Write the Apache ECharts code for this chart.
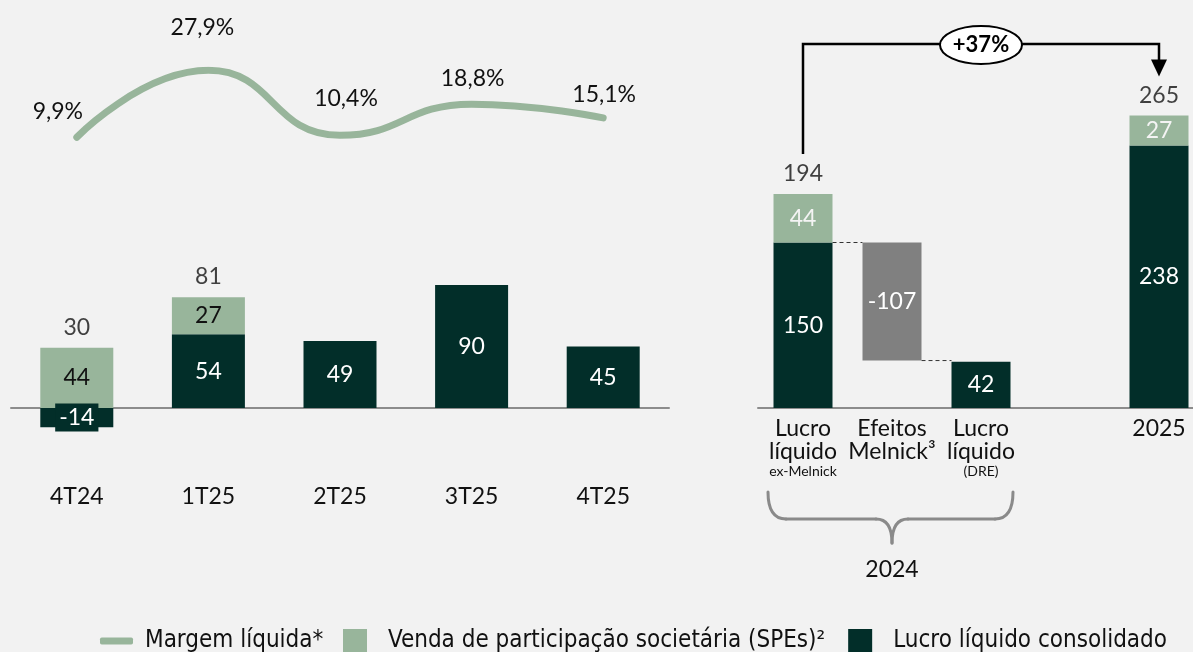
<!DOCTYPE html>
<html>
<head>
<meta charset="utf-8">
<script src="https://cdn.jsdelivr.net/npm/echarts@6/dist/echarts.min.js"></script>
<style>
  html, body { margin: 0; padding: 0; background: #f2f2f2; }
  #main { width: 1193px; height: 652px; }
</style>
</head>
<body>
<div id="main"></div>
<script>
// trimestres
const quarters = ['4T24', '1T25', '2T25', '3T25', '4T25'];
const margem = [9.9, 27.9, 10.4, 18.8, 15.1];
const lucroTri = [-14, 54, 49, 90, 45];
const vendaTri = [44, 27, null, null, null];

// anual (ponte 2024 -> 2025)
const anoCats = ['Lucro\nlíquido\n{s|ex-Melnick}', 'Efeitos\nMelnick³', 'Lucro\nlíquido\n{s|(DRE)}', '', '2025'];
const lucroAno = [150, null, 42, null, 238];
const vendaAno = [44, null, null, null, 27];
const efeitosAno = [null, -107, null, null, null];

const NOME_MARGEM = 'Margem líquida*';
const NOME_VENDA = 'Venda de participação societária (SPEs)²';
const NOME_LUCRO = 'Lucro líquido consolidado';

const VERDE = '#98b59b';
const ESCURO = '#022e29';
const CINZA = '#808080';
const TXT = '#111111';
const FONTE = 'Lato, "Open Sans", sans-serif';
const FONTE_LEG = '"DejaVu Sans Condensed", "Liberation Sans Narrow", sans-serif';

const chart = echarts.init(document.getElementById('main'), null, { renderer: 'canvas' });

// ajustes finos das etiquetas da margem
const margemLabel = [
  { distance: 14, offset: [-19, 0] },
  { distance: 31, offset: [-6, 0] },
  { distance: 25, offset: [6, 0] },
  { distance: 14, offset: [1, 0] },
  { distance: 12, offset: [1, 0] }
];

// totais acima das barras empilhadas (tri)
const totaisTri = [];
quarters.forEach((q, i) => {
  if (vendaTri[i] != null) {
    const pos = Math.max(lucroTri[i], 0) + vendaTri[i];
    totaisTri.push({ value: [i, pos], total: lucroTri[i] + vendaTri[i] });
  }
});

// totais (anual)
const totaisAno = [];
anoCats.forEach((c, i) => {
  if (vendaAno[i] != null) totaisAno.push([i, lucroAno[i] + vendaAno[i]]);
});

// base invisível da cascata
const baseAno = efeitosAno.map((v, i) => (v == null ? null : lucroAno[i - 1] + v));
// linhas tracejadas entre barras
const conectores = [];
efeitosAno.forEach((v, i) => {
  if (v != null) {
    conectores.push([i - 1, lucroAno[i - 1]]);
    conectores.push([i, baseAno[i]]);
  }
});

const valLabel = {
  show: true,
  position: 'inside',
  fontFamily: FONTE,
  fontSize: 23,
  color: '#ffffff'
};

const legTexto = { fontFamily: FONTE_LEG, fontSize: 24, color: TXT };

var option = {
  backgroundColor: '#f2f2f2',
  textStyle: { fontFamily: FONTE },
  animation: false,
  legend: [
    {
      data: [NOME_MARGEM],
      left: 100,
      top: 629,
      padding: 0,
      itemWidth: 33,
      itemHeight: 7,
      icon: 'roundRect',
      textStyle: Object.assign({ padding: [0, 0, 0, 7] }, legTexto),
      selectedMode: false
    },
    {
      data: [NOME_VENDA, NOME_LUCRO],
      left: 343,
      right: 0,
      top: 629,
      padding: 0,
      itemWidth: 24,
      itemHeight: 24,
      itemGap: 23,
      icon: 'rect',
      textStyle: Object.assign({ padding: [0, 0, 0, 16] }, legTexto),
      selectedMode: false
    }
  ],
  grid: [
    { left: 11, width: 658, top: 70, height: 104 },
    { left: 11, width: 658, top: 244, height: 205 },
    { left: 803, width: 356, top: 77, height: 331 },
    { left: 758, right: 0, top: 77, height: 331 }
  ],
  xAxis: [
    { gridIndex: 0, type: 'category', data: quarters, show: false },
    {
      gridIndex: 1, type: 'category', data: quarters,
      axisLine: { lineStyle: { color: '#8c8c8c', width: 2 } },
      axisTick: { show: false },
      axisLabel: { margin: 36, fontSize: 23, color: TXT, fontFamily: FONTE }
    },
    {
      gridIndex: 2, type: 'category', data: anoCats, boundaryGap: false,
      axisLine: { show: false },
      axisTick: { show: false },
      splitLine: { show: false },
      axisLabel: {
        margin: 9, fontSize: 23, lineHeight: 23, color: TXT, fontFamily: FONTE,
        interval: 0,
        rich: { s: { fontSize: 14, lineHeight: 16, color: TXT, fontFamily: FONTE } }
      }
    },
    {
      gridIndex: 3, type: 'value', min: 0, max: 1,
      axisLine: { show: true, lineStyle: { color: '#8c8c8c', width: 2 } },
      axisTick: { show: false },
      axisLabel: { show: false },
      splitLine: { show: false }
    }
  ],
  yAxis: [
    { gridIndex: 0, type: 'value', min: 0, max: 28, show: false },
    { gridIndex: 1, type: 'value', min: -30, max: 120, show: false },
    { gridIndex: 2, type: 'value', min: 0, max: 300, show: false },
    { gridIndex: 3, type: 'value', min: 0, max: 300, show: false }
  ],
  series: [
    {
      name: NOME_MARGEM,
      type: 'line',
      xAxisIndex: 0, yAxisIndex: 0,
      smooth: 0.5,
      symbol: 'circle',
      symbolSize: 0,
      lineStyle: { color: VERDE, width: 7, cap: 'round' },
      itemStyle: { color: VERDE },
      data: margem.map((v, i) => ({
        value: v,
        label: { distance: margemLabel[i].distance, offset: margemLabel[i].offset }
      })),
      label: {
        show: true,
        position: 'top',
        fontSize: 23,
        color: TXT,
        fontFamily: FONTE,
        formatter: p => p.value.toFixed(1).replace('.', ',') + '%'
      }
    },
    {
      name: NOME_LUCRO,
      type: 'bar',
      xAxisIndex: 1, yAxisIndex: 1,
      stack: 'tri',
      barWidth: 73,
      itemStyle: { color: ESCURO },
      data: lucroTri.map(v => v < 0
        ? { value: v, label: { backgroundColor: ESCURO, padding: [3, 4, 2, 4] } }
        : v),
      label: valLabel
    },
    {
      name: NOME_VENDA,
      type: 'bar',
      xAxisIndex: 1, yAxisIndex: 1,
      stack: 'tri',
      barWidth: 73,
      itemStyle: { color: VERDE },
      data: vendaTri,
      label: Object.assign({}, valLabel, { color: TXT })
    },
    {
      type: 'scatter',
      xAxisIndex: 1, yAxisIndex: 1,
      symbolSize: 0,
      silent: true,
      data: totaisTri,
      label: {
        show: true, position: 'top', distance: 9,
        fontSize: 23, color: TXT, fontFamily: FONTE,
        formatter: p => p.data.total
      }
    },
    {
      name: 'base',
      type: 'bar',
      xAxisIndex: 2, yAxisIndex: 2,
      stack: 'ano',
      barWidth: 59,
      clip: false,
      silent: true,
      itemStyle: { color: 'transparent' },
      data: baseAno
    },
    {
      name: NOME_LUCRO,
      type: 'bar',
      xAxisIndex: 2, yAxisIndex: 2,
      stack: 'ano',
      barWidth: 59,
      clip: false,
      itemStyle: { color: ESCURO },
      data: lucroAno,
      label: valLabel
    },
    {
      name: 'Efeitos Melnick',
      type: 'bar',
      xAxisIndex: 2, yAxisIndex: 2,
      stack: 'ano',
      barWidth: 59,
      clip: false,
      itemStyle: { color: CINZA },
      data: efeitosAno.map(v => (v == null ? null : { value: Math.abs(v), raw: v })),
      label: Object.assign({}, valLabel, { formatter: p => p.data.raw })
    },
    {
      name: NOME_VENDA,
      type: 'bar',
      xAxisIndex: 2, yAxisIndex: 2,
      stack: 'ano',
      barWidth: 59,
      clip: false,
      itemStyle: { color: VERDE },
      data: vendaAno,
      label: Object.assign({}, valLabel, { color: '#f4f4f4' })
    },
    {
      type: 'scatter',
      xAxisIndex: 2, yAxisIndex: 2,
      symbolSize: 0,
      clip: false,
      silent: true,
      data: totaisAno,
      label: {
        show: true, position: 'top', distance: 9,
        fontSize: 23, color: TXT, fontFamily: FONTE,
        formatter: p => p.value[1]
      }
    },
    {
      type: 'custom',
      xAxisIndex: 2, yAxisIndex: 2,
      silent: true,
      clip: false,
      data: conectores,
      renderItem: function (params, api) {
        const p = api.coord([api.value(0), api.value(1)]);
        const band = api.size([1, 0])[0];
        const half = 29.5;
        return {
          type: 'line',
          shape: { x1: p[0] + half, y1: p[1], x2: p[0] + band - half, y2: p[1] },
          style: { stroke: '#333', lineWidth: 1, lineDash: [4, 3] }
        };
      }
    }
  ]
};

chart.setOption(option, true);

// seta de crescimento e chave "2024"
const ini = chart.convertToPixel({ xAxisIndex: 2, yAxisIndex: 2 }, totaisAno[0]);
const fim = chart.convertToPixel({ xAxisIndex: 2, yAxisIndex: 2 }, totaisAno[1]);
const crescimento = Math.round((totaisAno[1][1] / totaisAno[0][1] - 1) * 100);
const yTopo = 44;
const xMeio = (ini[0] + fim[0]) / 2;

const c0 = chart.convertToPixel({ xAxisIndex: 2, yAxisIndex: 2 }, [0, 0]);
const c2 = chart.convertToPixel({ xAxisIndex: 2, yAxisIndex: 2 }, [2, 0]);
const bl = c0[0] - 35, br = c2[0] + 32, bc = (c0[0] + c2[0]) / 2;
const chave = { stroke: '#8a8a8a', lineWidth: 3, fill: null, lineCap: 'round' };

chart.setOption({
  graphic: [
    {
      type: 'polyline',
      shape: { points: [[ini[0], ini[1] - 40], [ini[0], yTopo], [fim[0], yTopo], [fim[0], fim[1] - 55]] },
      style: { stroke: '#000', lineWidth: 2.5, fill: null }
    },
    {
      type: 'polygon',
      shape: { points: [[fim[0] - 8, fim[1] - 56], [fim[0] + 8, fim[1] - 56], [fim[0], fim[1] - 39]] },
      style: { fill: '#000' }
    },
    {
      type: 'ellipse',
      shape: { cx: xMeio, cy: yTopo + 1, rx: 41, ry: 19 },
      style: { fill: '#fff', stroke: '#000', lineWidth: 2 }
    },
    {
      type: 'text',
      x: xMeio, y: yTopo + 1,
      style: {
        text: '+' + crescimento + '%', fill: '#000',
        font: 'bold 22px Lato, sans-serif',
        align: 'center', verticalAlign: 'middle'
      }
    },
    { type: 'bezierCurve', shape: { x1: bl, y1: 492, cpx1: bl, cpy1: 519, x2: bl + 18, y2: 519 }, style: chave },
    { type: 'line', shape: { x1: bl + 18, y1: 519, x2: bc - 16, y2: 519 }, style: chave },
    { type: 'bezierCurve', shape: { x1: bc - 16, y1: 519, cpx1: bc, cpy1: 519, x2: bc, y2: 543 }, style: chave },
    { type: 'bezierCurve', shape: { x1: br, y1: 492, cpx1: br, cpy1: 519, x2: br - 18, y2: 519 }, style: chave },
    { type: 'line', shape: { x1: br - 18, y1: 519, x2: bc + 16, y2: 519 }, style: chave },
    { type: 'bezierCurve', shape: { x1: bc + 16, y1: 519, cpx1: bc, cpy1: 519, x2: bc, y2: 543 }, style: chave },
    {
      type: 'text',
      x: bc, y: 570,
      style: {
        text: '2024', fill: TXT, font: '23px Lato, sans-serif',
        align: 'center', verticalAlign: 'middle'
      }
    }
  ]
});
</script>
</body>
</html>
